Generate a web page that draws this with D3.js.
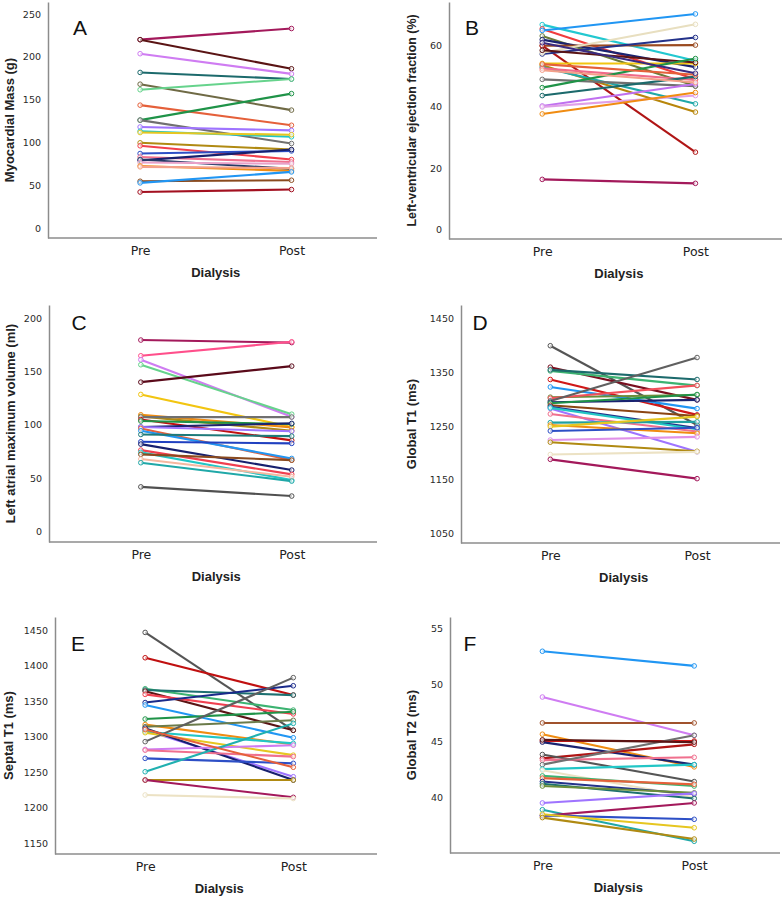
<!DOCTYPE html>
<html><head><meta charset="utf-8">
<script src="https://cdn.jsdelivr.net/npm/d3@7/dist/d3.min.js"></script>
<style>body{margin:0;background:#fff}</style>
</head><body><svg id="c" width="784" height="897"></svg>
<script>
const phases = ["Pre", "Post"];
const xTitle = "Dialysis";

// Panel A – Myocardial Mass (g)
const massPre  = [220, 220, 203.6, 181.7, 168, 161.5, 143.5, 126, 126, 118, 113, 111.5, 99.5, 96, 87, 83, 79, 80, 76.5, 72.5, 71.4, 54.6, 52.7, 42];
const massPost = [233, 186, 180, 174, 137.7, 174, 120, 157, 98.7, 114, 106.5, 109, 91.6, 80, 90, 77, 91.6, 69, 75, 66.7, 70, 55.8, 65.5, 44.9];
const massTicks = [0, 50, 100, 150, 200, 250];

// Panel B – LVEF (%)
const lvefPre  = [66.9, 65.5, 65, 63.2, 62, 60, 60, 57.3, 57.7, 54.2, 53.6, 53, 52.6, 58.5, 49, 46.3, 43.7, 40.3, 40, 37.7, 16.3, 54, 52, 61];
const lvefPost = [55.1, 49, 70.4, 46.8, 53, 60.2, 25.2, 62.7, 67, 54.2, 38.3, 41, 48.8, 54.5, 46.8, 55.8, 49.9, 47.5, 43.7, 44.7, 15, 50.5, 48, 51];
const lvefTicks = [0, 20, 40, 60];

// Panel C – LA max volume (ml)
const laPre  = [179.4, 164.7, 161, 156.3, 140, 128.5, 109.5, 108, 107.3, 105, 103.6, 98, 98, 96.7, 94.5, 91, 84.2, 82, 76.4, 74.3, 72.4, 68, 64.6, 42];
const laPost = [177, 177.8, 107.6, 110, 155, 98, 97.7, 94.5, 107.3, 85.5, 100.8, 101.4, 94, 67, 68.6, 89.5, 82.7, 57.7, 53.7, 48.4, 67, 51.5, 47.4, 33.4];
const laTicks = [0, 50, 100, 150, 200];

// Panel D – Global T1 (ms)
const gt1Pre  = [1400, 1360, 1353, 1355, 1337, 1323, 1304, 1302, 1297, 1294.5, 1292.6, 1289, 1286, 1283, 1284, 1272.7, 1256.5, 1252, 1249, 1241, 1224, 1220, 1197, 1188];
const gt1Post = [1252, 1299, 1325.6, 1337, 1271, 1282.7, 1308, 1326, 1378, 1299, 1309, 1269, 1246.6, 1202, 1244, 1240, 1258, 1236.6, 1267.7, 1247, 1230, 1203, 1202, 1152];
const gt1Ticks = [1050, 1150, 1250, 1350, 1450];

// Panel E – Septal T1 (ms)
const st1Pre  = [1446.6, 1411, 1367.4, 1365.6, 1364, 1359.5, 1348, 1344.5, 1324.8, 1317, 1314, 1309, 1307, 1305.6, 1312, 1293, 1282, 1281, 1269.5, 1250.7, 1239, 1239, 1218, 1310];
const st1Post = [1309, 1358.5, 1337.4, 1358.5, 1309, 1332, 1371.6, 1298.5, 1335, 1289, 1323, 1243.7, 1290.6, 1274, 1239, 1383, 1288, 1272, 1262.5, 1318.7, 1239, 1214.7, 1213, 1257];
const st1Ticks = [1150, 1200, 1250, 1300, 1350, 1400, 1450];

// Panel F – Global T2 (ms)
const gt2Pre  = [52.96, 48.9, 46.6, 45.6, 45.0, 44.9, 43.46, 43.8, 43.3, 42.9, 42.5, 42.4, 41.9, 41.7, 41.4, 41.2, 41.0, 39.5, 38.9, 38.35, 38.4, 38.5, 38.2, 45.1];
const gt2Post = [51.66, 45.5, 46.6, 42.7, 45.0, 42.9, 44.7, 41.4, 43.55, 45.5, 42.9, 40.0, 41.0, 41.15, 40.3, 39.9, 40.4, 40.35, 36.1, 39.5, 38.05, 37.3, 36.3, 44.9];
const gt2Ticks = [40, 45, 50, 55];

// line colours (styles, per panel)
const colorsA = ["#a3195b","#5a1414","#cf7cf2","#1c6a6c","#6f6a45","#66d38c","#e5603a","#1f9348","#707070","#9f74ff","#22c6c6","#e6c620","#b08a12","#f2404c","#2d4fc6","#f0708e","#17206e","#243a66","#e8a0c8","#f08c12","#f4a08a","#8a4a1e","#2196f3","#a31020"];
const colorsB = ["#22c8d0","#f03c3c","#2196f3","#6b7b3a","#1a2370","#9a4a20","#b01515","#23328a","#e8dfc0","#f2c511","#b8860b","#20a8a8","#f06a8a","#5a1414","#707070","#1f9348","#1c6a6c","#c070f0","#e0a0e8","#f08c12","#a3195b","#e5603a","#f4a08a","#3a2a80"];
const colorsC = ["#a3195b","#ff4f8b","#cf7cf2","#66d38c","#5a0a1a","#f2c511","#f08c12","#b08a12","#707070","#c01010","#1f9348","#1a2370","#9f74ff","#e5603a","#2196f3","#1d7a7a","#2040c0","#17206e","#f04050","#22c6c6","#8a4a1e","#f5b8a0","#20a8a8","#505050"];
const colorsD = ["#555555","#7a1020","#3cb371","#1c6a6c","#d01818","#2196f3","#6b8e3a","#f2505a","#606060","#1a2370","#1f9348","#8b4513","#23328a","#9f74ff","#22c6c6","#f0708e","#20a0a0","#f08c12","#e6c620","#2d4fc6","#e090e8","#b08a12","#ece2c4","#a3195b"];
const colorsE = ["#555555","#c01010","#3cb371","#1c7070","#5a1414","#f04050","#1a2a8a","#2196f3","#1f9348","#f08c12","#6b7b4a","#9f74ff","#22c6c6","#e6c620","#17206e","#606060","#cf7cf2","#f0708e","#2d4fc6","#20b0b0","#b08a12","#a3195b","#ece2c4","#e5603a"];
const colorsF = ["#2196f3","#cf7cf2","#a0522d","#f08c12","#e81818","#1a2370","#b01515","#555555","#f0708e","#707070","#22c6c6","#ece2c4","#3cb371","#e5603a","#23328a","#1c7070","#6b8e3a","#9f74ff","#20a8a8","#a3195b","#2d4fc6","#e6c620","#b08a12","#5a1414"];

const panels = [
  {letter:"A", title:"Myocardial Mass (g)", pre:massPre, post:massPost, ticks:massTicks, colors:colorsA,
   domain:[-11.7, 264], box:{l:48, t:2, r:377, b:238}, lab:[80, 27], tx:9.5, tfs:13},
  {letter:"B", title:"Left-ventricular ejection fraction (%)", pre:lvefPre, post:lvefPost, ticks:lvefTicks, colors:colorsB,
   domain:[-3.2, 74.3], box:{l:449, t:2, r:782, b:239}, lab:[472, 27], tx:411.5, tfs:12.4},
  {letter:"C", title:"Left atrial maximum volume (ml)", pre:laPre, post:laPost, ticks:laTicks, colors:colorsC,
   domain:[-9.6, 212.2], box:{l:49, t:305, r:377, b:542}, lab:[79, 322], tx:10, tfs:13},
  {letter:"D", title:"Global T1 (ms)", pre:gt1Pre, post:gt1Post, ticks:gt1Ticks, colors:colorsD,
   domain:[1031.9, 1476], box:{l:461, t:305, r:780, b:543}, lab:[480, 322], tx:411, tfs:13},
  {letter:"E", title:"Septal T1 (ms)", pre:st1Pre, post:st1Post, ticks:st1Ticks, colors:colorsE,
   domain:[1135, 1468.3], box:{l:55, t:617, r:377, b:854}, lab:[78, 643], tx:8.5, tfs:13},
  {letter:"F", title:"Global T2 (ms)", pre:gt2Pre, post:gt2Post, ticks:gt2Ticks, colors:colorsF,
   domain:[35.06, 56.0], box:{l:450, t:617, r:780, b:853}, lab:[470, 643], tx:411, tfs:13}
];

const svg = d3.select("#c");
const axisColor = "#8c8c8c";

panels.forEach(p => {
  const b = p.box, W = b.r - b.l;
  const g = svg.append("g");
  const x = d3.scalePoint().domain(phases).range([b.l + 0.28 * W, b.l + 0.74 * W]);
  const y = d3.scaleLinear().domain(p.domain).range([b.b, b.t]);

  // y axis
  const ya = g.append("g").attr("transform", `translate(${b.l},0)`)
    .call(d3.axisLeft(y).tickValues(p.ticks).tickSize(0).tickPadding(7).tickFormat(d3.format("d")));
  ya.select(".domain").attr("stroke", axisColor).attr("stroke-width", 1.5);
  ya.selectAll("text").attr("font-family", "DejaVu Sans, sans-serif").attr("font-size", 9.5).attr("fill", "#2a2a2a");

  // x axis
  const xa = g.append("g").attr("transform", `translate(0,${b.b})`)
    .call(d3.axisBottom(x).tickSize(0).tickPadding(0));
  xa.select(".domain").remove();
  xa.selectAll("text").attr("font-family", "DejaVu Sans, sans-serif").attr("font-size", 12.5)
    .attr("fill", "#222").attr("dy", "1.35em");
  g.append("line").attr("x1", b.l).attr("x2", b.r).attr("y1", b.b).attr("y2", b.b)
    .attr("stroke", axisColor).attr("stroke-width", 1.5);

  // titles
  g.append("text").attr("x", (x("Pre") + x("Post")) / 2).attr("y", b.b + 39)
    .attr("text-anchor", "middle").attr("font-family", "Liberation Sans, Arial, sans-serif")
    .attr("font-weight", "bold").attr("font-size", 13).attr("fill", "#222").text(xTitle);
  g.append("text").attr("transform", `translate(${p.tx},${(b.t + b.b) / 2}) rotate(-90)`)
    .attr("text-anchor", "middle").attr("dominant-baseline", "central")
    .attr("font-family", "Liberation Sans, Arial, sans-serif")
    .attr("font-weight", "bold").attr("font-size", p.tfs).attr("fill", "#222").text(p.title);
  g.append("text").attr("x", p.lab[0]).attr("y", p.lab[1]).attr("text-anchor", "middle")
    .attr("dominant-baseline", "central").attr("font-family", "Liberation Sans, Arial, sans-serif")
    .attr("font-size", 21).attr("fill", "#111").text(p.letter);

  // subjects
  const rows = p.pre.map((v, i) => ({pre: v, post: p.post[i], c: p.colors[i % p.colors.length]}));
  const line = d3.line().x(d => x(d.k)).y(d => y(d.v));
  const sg = g.append("g").selectAll("g").data(rows).join("g");
  sg.append("path")
    .attr("d", d => line([{k:"Pre", v:d.pre}, {k:"Post", v:d.post}]))
    .attr("fill", "none").attr("stroke", d => d.c).attr("stroke-width", 2.1);
  sg.selectAll("circle").data(d => [{k:"Pre", v:d.pre, c:d.c}, {k:"Post", v:d.post, c:d.c}]).join("circle")
    .attr("cx", d => x(d.k)).attr("cy", d => y(d.v)).attr("r", 2.3)
    .attr("fill", "#fff").attr("fill-opacity", 0.6).attr("stroke", d => d.c).attr("stroke-width", 1);
});
</script>
</body></html>
